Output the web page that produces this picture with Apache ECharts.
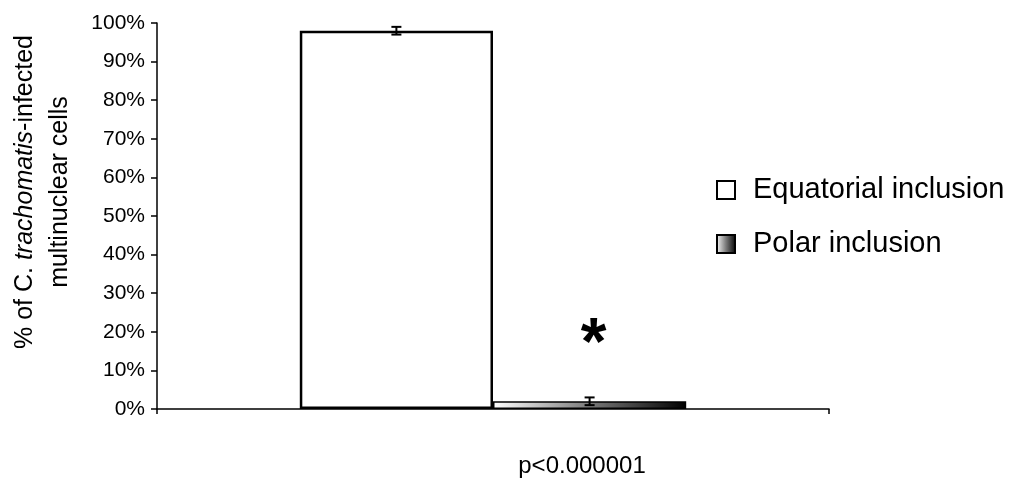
<!DOCTYPE html>
<html>
<head>
<meta charset="utf-8">
<script src="https://cdn.jsdelivr.net/npm/echarts@6/dist/echarts.min.js"></script>
<style>
html,body{margin:0;padding:0;background:#fff;}
#chart{width:1023px;height:483px;}
</style>
</head>
<body>
<div id="chart"></div>
<script>
var categories = ['p<0.000001'];
var seriesNames = ['Equatorial inclusion', 'Polar inclusion'];
var equatorialValues = [98];
var polarValues = [2];
var equatorialErrors = [1];
var polarErrors = [1];
var yTicks = [0, 10, 20, 30, 40, 50, 60, 70, 80, 90, 100];
var significanceMark = '*';

var chart = echarts.init(document.getElementById('chart'));
var FONT = 'Liberation Sans, Arial, sans-serif';

var polarGradient = new echarts.graphic.LinearGradient(0, 0, 1, 0, [
  {offset: 0, color: '#ffffff'},
  {offset: 0.5, color: '#7a7a7a'},
  {offset: 1, color: '#000000'}
]);

var values = [equatorialValues, polarValues];
var errors = [equatorialErrors, polarErrors];
var errData = [];
for (var s = 0; s < 2; s++) {
  for (var i = 0; i < categories.length; i++) {
    errData.push([i, values[s][i] - errors[s][i], values[s][i] + errors[s][i], s]);
  }
}

var option = {
  animation: false,
  backgroundColor: '#ffffff',
  grid: {left: 157, right: 194, top: 23, bottom: 74, containLabel: false},
  legend: {
    data: seriesNames,
    orient: 'vertical',
    left: 716,
    top: 175,
    padding: 0,
    itemWidth: 18,
    itemHeight: 18,
    itemGap: 24,
    icon: 'rect',
    selectedMode: false,
    textStyle: {fontFamily: FONT, fontSize: 29, color: '#000', lineHeight: 30, padding: [0, 0, 0, 13]}
  },
  xAxis: {
    type: 'category',
    data: categories,
    axisLine: {lineStyle: {color: '#000', width: 1.5}},
    axisTick: {show: true, length: 5, lineStyle: {color: '#000', width: 1.5}},
    axisLabel: {show: false}
  },
  yAxis: {
    type: 'value',
    min: 0,
    max: 100,
    interval: 10,
    axisLine: {show: true, lineStyle: {color: '#000', width: 1.5}},
    axisTick: {show: true, length: 6, lineStyle: {color: '#000', width: 1.5}},
    splitLine: {show: false},
    axisLabel: {
      fontFamily: FONT, fontSize: 21, color: '#000', margin: 12,
      formatter: function (v) { return yTicks.indexOf(v) >= 0 ? v + '%' : ''; }
    }
  },
  graphic: [
    {
      type: 'text',
      x: 43, y: 192,
      rotation: Math.PI / 2,
      style: {
        text: '{n|% of C. }{i|trachomatis}{n|-infected}\n{n|multinuclear cells}',
        rich: {
          n: {fontFamily: FONT, fontSize: 25, fill: '#000', lineHeight: 35},
          i: {fontFamily: FONT, fontSize: 25, fontStyle: 'italic', fill: '#000', lineHeight: 35}
        },
        align: 'center',
        verticalAlign: 'middle'
      }
    },
    {
      type: 'text',
      x: 582, y: 466,
      style: {
        text: categories[0],
        fontFamily: FONT, fontSize: 24, fill: '#000',
        align: 'center', verticalAlign: 'middle'
      }
    }
  ],
  series: [
    {
      name: seriesNames[0],
      type: 'bar',
      data: equatorialValues,
      barGap: '0%',
      barCategoryGap: '42.5%',
      itemStyle: {color: '#ffffff', borderColor: '#000', borderWidth: 2.5}
    },
    {
      name: seriesNames[1],
      type: 'bar',
      data: polarValues,
      barGap: '0%',
      barCategoryGap: '42.5%',
      itemStyle: {color: polarGradient, borderColor: '#000', borderWidth: 1.5},
      label: {
        show: true,
        position: 'top',
        distance: 22,
        offset: [4, 0],
        formatter: significanceMark,
        fontFamily: FONT,
        fontSize: 66,
        fontWeight: 'bold',
        color: '#000'
      }
    },
    {
      type: 'custom',
      name: 'errors',
      data: errData,
      z: 10,
      silent: true,
      renderItem: function (params, api) {
        var idx = api.value(0);
        var lo = api.coord([idx, api.value(1)]);
        var hi = api.coord([idx, api.value(2)]);
        var band = api.size([1, 0])[0];
        var barW = band * 0.575 / 2;
        var sIdx = api.value(3);
        var x = lo[0] + (sIdx - 0.5) * barW;
        var cap = 5;
        var st = {stroke: '#000', lineWidth: 2};
        return {
          type: 'group',
          children: [
            {type: 'line', shape: {x1: x, y1: lo[1], x2: x, y2: hi[1]}, style: st},
            {type: 'line', shape: {x1: x - cap, y1: lo[1], x2: x + cap, y2: lo[1]}, style: st},
            {type: 'line', shape: {x1: x - cap, y1: hi[1], x2: x + cap, y2: hi[1]}, style: st}
          ]
        };
      }
    }
  ]
};
chart.setOption(option);
</script>
</body>
</html>
